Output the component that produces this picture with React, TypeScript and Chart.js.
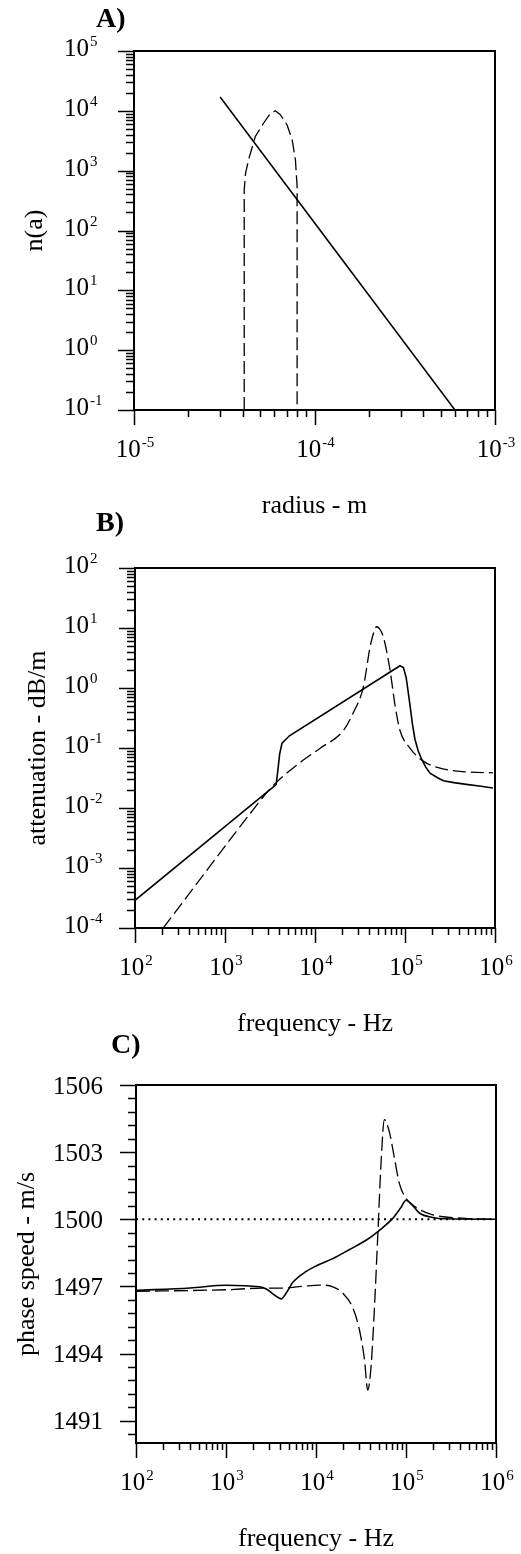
import React, { useEffect, useRef } from "react";
import { Chart, registerables } from "chart.js";
Chart.register(...registerables);

const FONT = '"Liberation Serif", "Times New Roman", serif';

// ---------- Panel A: size distribution ----------
const radiusA_solid = [3.0e-5, 6.0e-4];
const nA_solid = [1.7e4, 0.1];
const radiusA_dashed = [4.08e-5, 4.08e-5, 4.15e-5, 4.31e-5, 4.7e-5, 5.22e-5, 5.7e-5, 6.07e-5, 6.47e-5, 7.05e-5, 7.52e-5, 7.84e-5, 8.01e-5, 8.01e-5];
const nA_dashed = [0.1, 480, 900, 1520, 3730, 6200, 9100, 10000, 8600, 5800, 3300, 1520, 550, 0.1];
const xTicksA = [1e-5, 1e-4, 1e-3];
const xExpA = ["-5", "-4", "-3"];
const yTicksA = [1e5, 1e4, 1e3, 1e2, 1e1, 1e0, 1e-1];
const yExpA = ["5", "4", "3", "2", "1", "0", "-1"];

// ---------- Panel B: attenuation ----------
const freqB_solid = [100, 3700, 3850, 4050, 4300, 5200, 88000, 96000, 103000, 108000, 114000, 121000, 129000, 140000, 153000, 170000, 190000, 230000, 267000, 350000, 480000, 700000, 950000];
const attB_solid = [2.9e-4, 0.0245, 0.04, 0.08, 0.12, 0.16, 2.35, 2.2, 1.5, 0.9, 0.5, 0.25, 0.14, 0.09, 0.065, 0.048, 0.038, 0.032, 0.0285, 0.0265, 0.0248, 0.023, 0.0216];
const freqB_dashed = [206, 2070, 3000, 3750, 6800, 11400, 20700, 26700, 34400, 40800, 45000, 48400, 52000, 57500, 68000, 77400, 88000, 114000, 158000, 245000, 480000, 950000];
const attB_dashed = [1e-4, 9.5e-3, 0.019, 0.027, 0.057, 0.099, 0.196, 0.39, 1.03, 4.7, 8.5, 10.5, 9.8, 7.1, 2.05, 0.52, 0.196, 0.099, 0.061, 0.046, 0.040, 0.0386];
const xTicksB = [1e2, 1e3, 1e4, 1e5, 1e6];
const xExpB = ["2", "3", "4", "5", "6"];
const yTicksB = [1e2, 1e1, 1e0, 1e-1, 1e-2, 1e-3, 1e-4];
const yExpB = ["2", "1", "0", "-1", "-2", "-3", "-4"];

// ---------- Panel C: phase speed ----------
const freqC_solid = [100, 400, 1000, 2350, 2800, 3500, 4100, 4650, 5540, 7800, 10000, 15400, 23600, 36000, 55200, 71300, 88000, 100000, 119000, 141000, 198000, 280000, 1000000];
const speedC_solid = [1496.82, 1496.93, 1497.05, 1496.98, 1496.88, 1496.6, 1496.44, 1496.69, 1497.18, 1497.67, 1497.91, 1498.24, 1498.65, 1499.06, 1499.63, 1500.04, 1500.53, 1500.85, 1500.61, 1500.28, 1500.08, 1500.02, 1500.0];
const freqC_dashed = [100, 1000, 2500, 4000, 7000, 11000, 15400, 19900, 25700, 30400, 34500, 37600, 40900, 44600, 48600, 52900, 57500, 65500, 74400, 84500, 100000, 129000, 198000, 460000, 1000000];
const speedC_dashed = [1496.78, 1496.85, 1496.92, 1496.92, 1497.0, 1497.06, 1496.98, 1496.69, 1496.03, 1495.05, 1493.75, 1492.36, 1493.42, 1496.03, 1499.3, 1502.57, 1504.45, 1503.88, 1502.73, 1501.59, 1500.93, 1500.53, 1500.2, 1500.04, 1500.0];
const freqC_ref = [100, 1000000];
const speedC_ref = [1500, 1500];
const xTicksC = [1e2, 1e3, 1e4, 1e5, 1e6];
const xExpC = ["2", "3", "4", "5", "6"];
const yTicksC = [1506, 1503, 1500, 1497, 1494, 1491];
const yMinorsC = [1505.4, 1504.8, 1504.2, 1503.6, 1502.4, 1501.8, 1501.2, 1500.6, 1499.4, 1498.8, 1498.2, 1497.6, 1496.4, 1495.8, 1495.2, 1494.6, 1493.4, 1492.8, 1492.2, 1491.6, 1490.4];

const toXY = (xs: number[], ys: number[]) => xs.map((x, i) => ({ x, y: ys[i] }));

function logMinors(min: number, max: number): number[] {
  const out: number[] = [];
  const d0 = Math.floor(Math.log10(min));
  const d1 = Math.ceil(Math.log10(max));
  for (let d = d0; d < d1; d++) {
    for (let k = 2; k <= 9; k++) {
      const v = k * Math.pow(10, d);
      if (v > min && v < max) out.push(v);
    }
  }
  return out;
}

function drawPow(ctx: CanvasRenderingContext2D, base: string, exp: string, x: number, y: number, mode: "center" | "right") {
  ctx.font = `25px ${FONT}`;
  const bw = ctx.measureText(base).width;
  ctx.font = `15px ${FONT}`;
  const ew = ctx.measureText(exp).width;
  const bx = mode === "center" ? x - (bw + ew + 1) / 2 : x - bw;
  ctx.textAlign = "left";
  ctx.textBaseline = "alphabetic";
  ctx.font = `25px ${FONT}`;
  ctx.fillText(base, bx, y);
  ctx.font = `15px ${FONT}`;
  ctx.fillText(exp, bx + bw + 1, y - 10);
}

interface PanelDef {
  top: number;
  height: number;
  area: { l: number; r: number; t: number; b: number };
  xMin: number; xMax: number;
  yType: "logarithmic" | "linear";
  yMin: number; yMax: number;
  xTicks: number[]; xExp: string[];
  yTicks: number[]; yExp: string[] | null;
  yMinors: number[];
  xTitle: string; yTitle: string; yTitleX: number;
  letter: string; letterX: number; letterY: number;
  datasets: any[];
}

function makePlugin(p: PanelDef) {
  return {
    id: "paperAxes",
    afterDraw(chart: any) {
      const ctx: CanvasRenderingContext2D = chart.ctx;
      const { left, right, top, bottom } = chart.chartArea;
      const xs = chart.scales.x;
      const ys = chart.scales.y;
      const off = p.top;
      ctx.save();
      ctx.strokeStyle = "#000";
      ctx.fillStyle = "#000";
      ctx.lineWidth = 1.5;
      ctx.beginPath();
      for (const v of p.xTicks) {
        const px = Math.round(xs.getPixelForValue(v)) + 0.5;
        ctx.moveTo(px, bottom);
        ctx.lineTo(px, bottom + 15);
      }
      for (const v of logMinors(p.xMin, p.xMax)) {
        const px = Math.round(xs.getPixelForValue(v)) + 0.5;
        ctx.moveTo(px, bottom);
        ctx.lineTo(px, bottom + 7);
      }
      for (const v of p.yTicks) {
        const py = Math.round(ys.getPixelForValue(v)) + 0.5;
        ctx.moveTo(left - 16, py);
        ctx.lineTo(left, py);
      }
      for (const v of p.yMinors) {
        const py = Math.round(ys.getPixelForValue(v)) + 0.5;
        ctx.moveTo(left - 8, py);
        ctx.lineTo(left, py);
      }
      ctx.stroke();
      ctx.lineWidth = 2;
      ctx.strokeRect(left, top, right - left, bottom - top);

      for (let i = 0; i < p.xTicks.length; i++) {
        const px = xs.getPixelForValue(p.xTicks[i]);
        drawPow(ctx, "10", p.xExp[i], px + 1, bottom + 47, "center");
      }
      for (let i = 0; i < p.yTicks.length; i++) {
        const py = ys.getPixelForValue(p.yTicks[i]);
        if (p.yExp) {
          drawPow(ctx, "10", p.yExp[i], 89, py + 5, "right");
        } else {
          ctx.font = `25px ${FONT}`;
          ctx.textAlign = "right";
          ctx.textBaseline = "alphabetic";
          ctx.fillText(String(p.yTicks[i]), 103, py + 8.5);
        }
      }
      ctx.font = `26px ${FONT}`;
      ctx.textAlign = "center";
      ctx.textBaseline = "alphabetic";
      ctx.fillText(p.xTitle, (left + right) / 2, bottom + 103);
      ctx.save();
      ctx.translate(p.yTitleX, (top + bottom) / 2);
      ctx.rotate(-Math.PI / 2);
      ctx.textAlign = "center";
      ctx.textBaseline = "alphabetic";
      ctx.fillText(p.yTitle, 0, 0);
      ctx.restore();
      ctx.font = `bold 28px ${FONT}`;
      ctx.textAlign = "left";
      ctx.textBaseline = "middle";
      ctx.fillText(p.letter, p.letterX, p.letterY - off);
      ctx.restore();
    },
  };
}

const solidStyle = { borderColor: "#000", borderWidth: 1.6, pointRadius: 0, fill: false };
const dashedStyle = { borderColor: "#000", borderWidth: 1.3, pointRadius: 0, fill: false, borderDash: [13, 5] };

const panels: PanelDef[] = [
  {
    top: 0, height: 530,
    area: { l: 134, r: 495, t: 51, b: 410 },
    xMin: 1e-5, xMax: 1e-3,
    yType: "logarithmic", yMin: 0.1, yMax: 1e5,
    xTicks: xTicksA, xExp: xExpA,
    yTicks: yTicksA, yExp: yExpA,
    yMinors: logMinors(0.1, 1e5),
    xTitle: "radius - m", yTitle: "n(a)", yTitleX: 42,
    letter: "A)", letterX: 96, letterY: 20,
    datasets: [
      { ...solidStyle, data: toXY(radiusA_solid, nA_solid) },
      { ...dashedStyle, data: toXY(radiusA_dashed, nA_dashed) },
    ],
  },
  {
    top: 500, height: 550,
    area: { l: 135, r: 495, t: 568, b: 928 },
    xMin: 100, xMax: 1e6,
    yType: "logarithmic", yMin: 1e-4, yMax: 100,
    xTicks: xTicksB, xExp: xExpB,
    yTicks: yTicksB, yExp: yExpB,
    yMinors: logMinors(1e-4, 100),
    xTitle: "frequency - Hz", yTitle: "attenuation - dB/m", yTitleX: 45,
    letter: "B)", letterX: 96, letterY: 524,
    datasets: [
      { ...solidStyle, data: toXY(freqB_solid, attB_solid) },
      { ...dashedStyle, cubicInterpolationMode: "monotone", data: toXY(freqB_dashed, attB_dashed) },
    ],
  },
  {
    top: 1020, height: 534,
    area: { l: 136, r: 496, t: 1085, b: 1443 },
    xMin: 100, xMax: 1e6,
    yType: "linear", yMin: 1490, yMax: 1506,
    xTicks: xTicksC, xExp: xExpC,
    yTicks: yTicksC, yExp: null,
    yMinors: yMinorsC,
    xTitle: "frequency - Hz", yTitle: "phase speed - m/s", yTitleX: 34,
    letter: "C)", letterX: 111, letterY: 1046,
    datasets: [
      { borderColor: "#000", borderWidth: 1.8, pointRadius: 0, fill: false, borderDash: [2, 4.2], data: toXY(freqC_ref, speedC_ref) },
      { ...solidStyle, cubicInterpolationMode: "monotone", data: toXY(freqC_solid, speedC_solid) },
      { ...dashedStyle, borderDash: [14, 5], cubicInterpolationMode: "monotone", data: toXY(freqC_dashed, speedC_dashed) },
    ],
  },
];

function Panel({ p }: { p: PanelDef }) {
  const ref = useRef<HTMLCanvasElement>(null);
  useEffect(() => {
    if (!ref.current) return;
    const chart = new Chart(ref.current, {
      type: "line",
      data: { datasets: p.datasets },
      options: {
        animation: false,
        responsive: false,
        devicePixelRatio: 1,
        layout: {
          padding: {
            left: p.area.l,
            right: 521 - p.area.r,
            top: p.area.t - p.top,
            bottom: p.top + p.height - p.area.b,
          },
        },
        plugins: { legend: { display: false }, tooltip: { enabled: false } },
        scales: {
          x: { type: "logarithmic", min: p.xMin, max: p.xMax, display: false },
          y: { type: p.yType, min: p.yMin, max: p.yMax, display: false },
        },
      } as any,
      plugins: [makePlugin(p)],
    });
    return () => chart.destroy();
  }, []);
  return (
    <canvas
      ref={ref}
      width={521}
      height={p.height}
      style={{ position: "absolute", left: 0, top: p.top, width: 521, height: p.height }}
    />
  );
}

export default function App() {
  return (
    <div style={{ position: "absolute", left: 0, top: 0, width: 521, height: 1554, background: "#fff" }}>
      {panels.map((p, i) => (
        <Panel key={i} p={p} />
      ))}
    </div>
  );
}
